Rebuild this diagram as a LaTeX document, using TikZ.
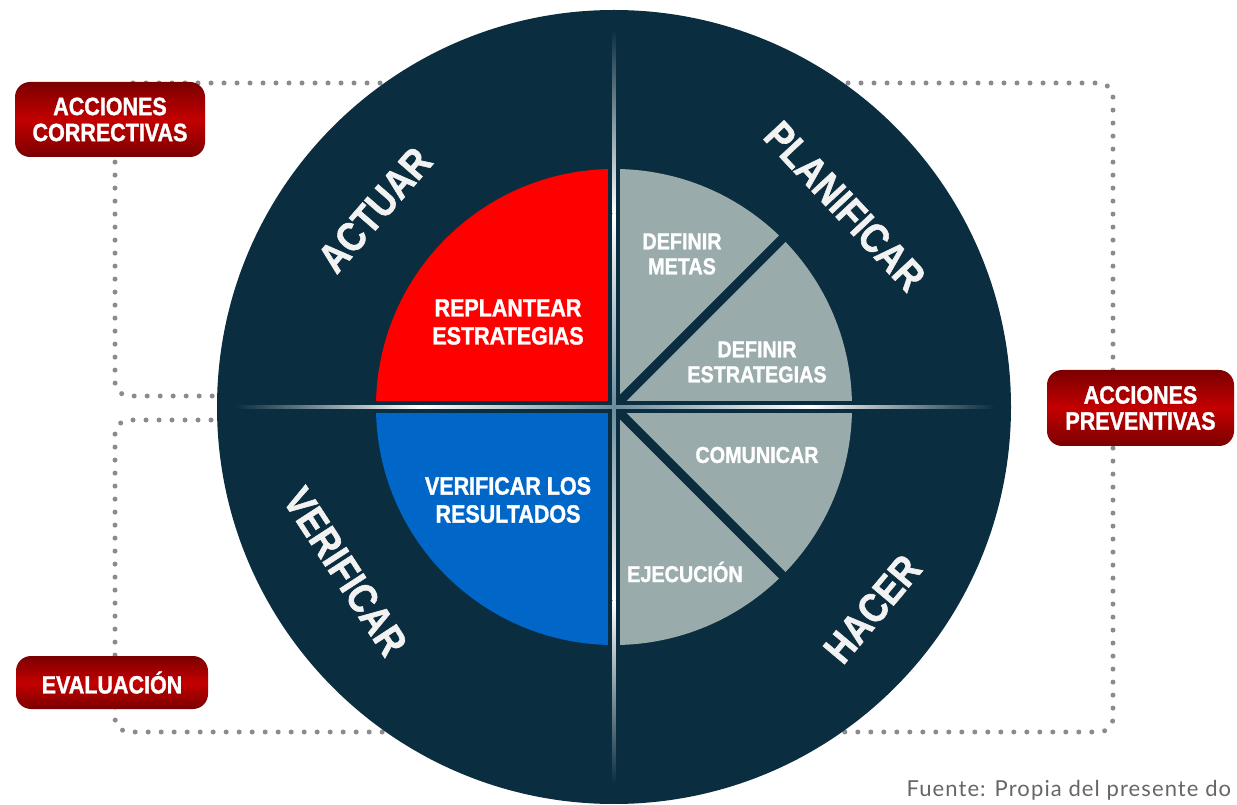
\documentclass[tikz,border=0pt]{standalone}
\usepackage{fontspec}
\setmainfont{Liberation Sans}[FakeStretch=0.86, BoldFeatures={FakeBold=1.3}]
\newfontfamily\footfont{Lato}[LetterSpace=5]
\usetikzlibrary{positioning,calc}

\definecolor{navy}{HTML}{0A2E3F}
\definecolor{slate}{HTML}{9AABAC}
\definecolor{redq}{HTML}{FF0000}
\definecolor{blueq}{HTML}{0066C8}
\definecolor{btnred}{HTML}{C40000}
\definecolor{btndark}{HTML}{7A0000}
\definecolor{dotgray}{HTML}{8A8A90}
\definecolor{glow}{HTML}{6C8C9B}

\begin{document}
\begin{tikzpicture}[x=1pt,y=1pt]
                \tikzstyle{button}=[rounded corners=15pt, top color=btndark, bottom color=btndark, middle color=btnred, text=white, font=\fontsize{25}{26}\selectfont\bfseries, align=center, inner sep=0pt]
                \tikzstyle{dots}=[dotgray, line width=5pt, line cap=round, dash pattern=on 0pt off 13pt, rounded corners=14pt]
                \tikzstyle{ring}=[text=white!90!gray, font=\fontsize{41}{41}\selectfont\bfseries]
                \tikzstyle{big}=[text=white, align=center, font=\fontsize{25}{28}\selectfont\bfseries]
                \tikzstyle{small}=[text=white, align=center, font=\fontsize{23}{25}\selectfont\bfseries]
                \useasboundingbox (0,0) rectangle (1237,804);
                \coordinate (c) at (614,397);

                % dotted loops (behind the wheel)
                \coordinate (tl) at (614,721);
                \coordinate (ml) at (614,408);
                \coordinate (nl) at (614,384);
                \coordinate (bl) at (614,72);
                \draw[dots] (tl) -- (115,721) -- (115,408) -- (ml);
                \draw[dots] (nl) -- (115,384) -- (115,72) -- (bl);
                \draw[dots] (tl) -- (1113,721) -- (1113,72) -- (bl);

                % wheel
                \fill[navy] (c) circle (397);
                \fill[redq] (c) -- ++(90:238) arc (90:180:238) -- cycle;
                \fill[blueq] (c) -- ++(180:238) arc (180:270:238) -- cycle;
                \fill[slate] (c) -- ++(-90:238) arc (-90:90:238) -- cycle;
                \draw[navy, line width=12pt] ($(c)+(-240,0)$) -- ($(c)+(240,0)$);
                \draw[navy, line width=12pt] ($(c)+(0,-240)$) -- ($(c)+(0,240)$);
                \draw[navy, line width=9pt] (c) -- ++(45:240);
                \draw[navy, line width=9pt] (c) -- ++(-45:240);

                % glowing cross
                \shade[left color=navy, right color=white] (235,395.5) rectangle (420,398.5);
                \shade[left color=white, right color=glow] (420,395.5) rectangle (614,398.5);
                \shade[left color=glow, right color=white] (614,395.5) rectangle (810,398.5);
                \shade[left color=white, right color=navy] (810,395.5) rectangle (995,398.5);
                \shade[bottom color=white, top color=navy] (612.5,590) rectangle (615.5,775);
                \shade[bottom color=glow, top color=white] (612.5,397) rectangle (615.5,590);
                \shade[top color=glow, bottom color=white] (612.5,204) rectangle (615.5,397);
                \shade[top color=white, bottom color=navy] (612.5,20) rectangle (615.5,204);

                % ring labels
                \node[ring, rotate=49] (actuar) at ($(c)+(140.5:310)$) {ACTUAR};
                \node[ring, rotate=-47] (planificar) at ($(c)+(41:306)$) {PLANIFICAR};
                \node[ring, rotate=-57] (verificar) at ($(c)+(211.5:315)$) {VERIFICAR};
                \node[ring, rotate=50] (hacer) at ($(c)+(-38:328)$) {HACER};

                % inner labels
                \node[big] (replantear) at ($(c)+(-106,85)$) {REPLANTEAR\\ESTRATEGIAS};
                \node[big] (resultados) at ($(c)+(-106,-93)$) {VERIFICAR LOS\\RESULTADOS};
                \node[small] (metas) at ($(c)+(68,153)$) {DEFINIR\\METAS};
                \node[small] (estrategias) at ($(c)+(143,45)$) {DEFINIR\\ESTRATEGIAS};
                \node[small] (comunicar) at ($(c)+(143,-48)$) {COMUNICAR};
                \node[small] (ejecucion) at ($(c)+(71,-165)$) {EJECUCIÓN};

                % buttons
                \node[button, minimum width=190pt, minimum height=75pt] (correctivas) at (110,684.5) {ACCIONES\\CORRECTIVAS};
                \node[button, minimum width=192pt, minimum height=53pt] (evaluacion) at (112,121.5) {EVALUACIÓN};
                \node[button, minimum width=187pt, minimum height=76pt] (preventivas) at (1140.5,396) {ACCIONES\\PREVENTIVAS};

                \node[anchor=base west, text=black!60, font=\footfont\fontsize{22}{22}\selectfont] (fuente) at (903,8) {Fuente: Propia del presente do};
\end{tikzpicture}
\end{document}
